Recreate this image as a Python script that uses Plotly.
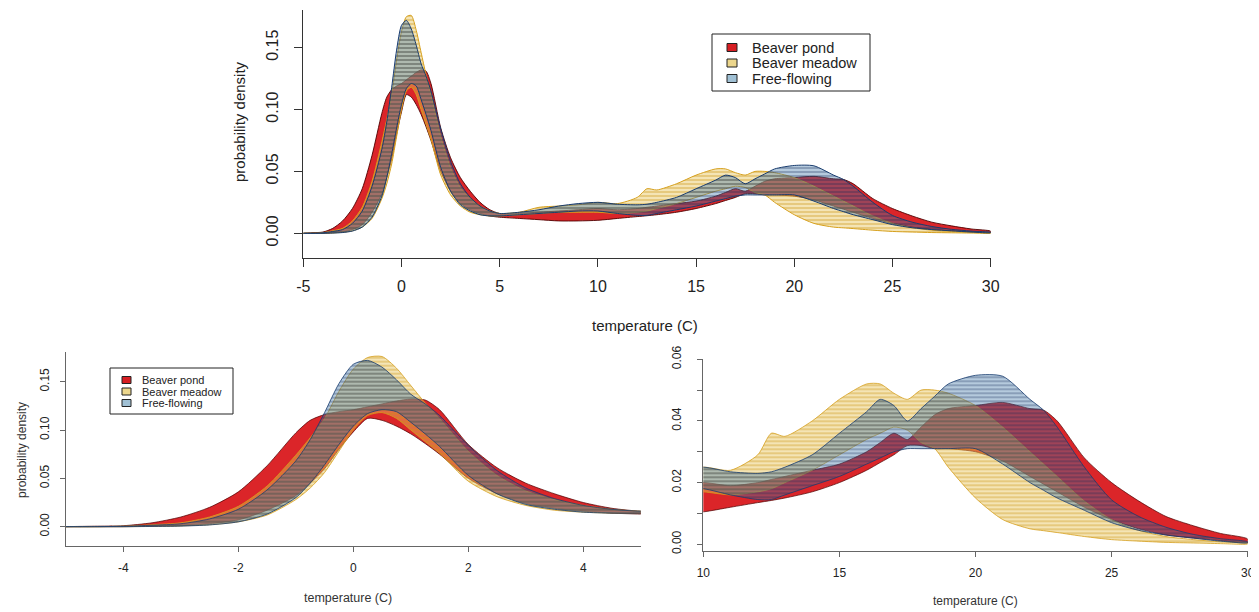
import plotly.graph_objects as go

# ---------------- data ----------------
temperature = [-5, -4.5, -4, -3.5, -3, -2.5, -2, -1.5, -1, -0.75, -0.5, -0.25, 0, 0.25, 0.5, 0.75,
               1, 1.25, 1.5, 2, 2.5, 3, 3.5, 4, 4.5, 5, 6, 7, 8, 9, 10, 11, 12, 12.5, 13, 14, 15,
               16, 16.5, 17, 17.5, 18, 18.5, 19, 20, 21, 22, 22.5, 23, 24, 25, 26, 27, 28, 29, 30]

pond_lo = [0, 0, 0, 0.0005, 0.001, 0.003, 0.007, 0.017, 0.032, 0.045, 0.060, 0.080, 0.098, 0.112,
           0.110, 0.104, 0.096, 0.086, 0.075, 0.050, 0.034, 0.024, 0.019, 0.016, 0.014, 0.013,
           0.012, 0.011, 0.010, 0.010, 0.0105, 0.012, 0.0135, 0.0142, 0.015, 0.017, 0.020, 0.024,
           0.0265, 0.029, 0.032, 0.032, 0.031, 0.031, 0.030, 0.027, 0.022, 0.0195, 0.017, 0.012,
           0.008, 0.005, 0.003, 0.002, 0.0012, 0.0005]
pond_hi = [0, 0.0005, 0.001, 0.004, 0.010, 0.020, 0.036, 0.063, 0.097, 0.110, 0.116, 0.119, 0.121,
           0.124, 0.127, 0.130, 0.132, 0.131, 0.121, 0.085, 0.061, 0.045, 0.034, 0.025, 0.019,
           0.016, 0.016, 0.017, 0.018, 0.019, 0.020, 0.019, 0.020, 0.021, 0.022, 0.024, 0.026,
           0.030, 0.033, 0.036, 0.034, 0.038, 0.042, 0.044, 0.045, 0.046, 0.044, 0.0435, 0.040,
           0.028, 0.020, 0.014, 0.009, 0.006, 0.0035, 0.0017]

meadow_lo = [0, 0, 0, 0.0003, 0.0008, 0.002, 0.005, 0.012, 0.028, 0.040, 0.056, 0.078, 0.100,
             0.115, 0.118, 0.112, 0.100, 0.088, 0.076, 0.047, 0.031, 0.022, 0.017, 0.015, 0.014,
             0.014, 0.015, 0.016, 0.017, 0.017, 0.017, 0.016, 0.017, 0.018, 0.020, 0.024, 0.029,
             0.034, 0.036, 0.038, 0.037, 0.033, 0.031, 0.025, 0.015, 0.008, 0.005, 0.0044, 0.0038,
             0.0025, 0.0015, 0.001, 0.0006, 0.0004, 0.0002, 0.0001]
meadow_hi = [0, 0, 0.0005, 0.002, 0.004, 0.010, 0.021, 0.042, 0.074, 0.092, 0.112, 0.140, 0.163,
             0.175, 0.176, 0.164, 0.146, 0.128, 0.112, 0.078, 0.053, 0.037, 0.028, 0.022, 0.018,
             0.016, 0.017, 0.021, 0.022, 0.023, 0.025, 0.024, 0.029, 0.036, 0.035, 0.040, 0.047,
             0.052, 0.052, 0.049, 0.047, 0.050, 0.050, 0.049, 0.045, 0.038, 0.030, 0.026, 0.022,
             0.014, 0.008, 0.0045, 0.0025, 0.0015, 0.0008, 0.0004]

free_lo = [0, 0, 0, 0.0002, 0.0006, 0.0018, 0.005, 0.013, 0.030, 0.045, 0.064, 0.085, 0.104,
           0.117, 0.121, 0.119, 0.108, 0.096, 0.083, 0.053, 0.034, 0.023, 0.018, 0.015, 0.014,
           0.014, 0.015, 0.016, 0.017, 0.018, 0.018, 0.016, 0.0145, 0.0145, 0.016, 0.019, 0.022,
           0.026, 0.028, 0.030, 0.031, 0.031, 0.031, 0.031, 0.031, 0.026, 0.020, 0.0175, 0.015,
           0.011, 0.007, 0.0045, 0.003, 0.002, 0.001, 0.0005]
free_hi = [0, 0, 0.0004, 0.0015, 0.003, 0.008, 0.018, 0.038, 0.068, 0.090, 0.118, 0.148, 0.168,
           0.172, 0.165, 0.152, 0.137, 0.127, 0.115, 0.084, 0.058, 0.040, 0.029, 0.022, 0.018,
           0.016, 0.017, 0.019, 0.022, 0.024, 0.025, 0.0235, 0.023, 0.0235, 0.025, 0.029, 0.036,
           0.043, 0.047, 0.045, 0.040, 0.044, 0.048, 0.052, 0.0548, 0.0545, 0.047, 0.0435, 0.038,
           0.025, 0.0144, 0.009, 0.0055, 0.0032, 0.0018, 0.0008]

series_names = ["Beaver pond", "Beaver meadow", "Free-flowing"]

top_xticks = [-5, 0, 5, 10, 15, 20, 25, 30]
left_xticks = [-4, -2, 0, 2, 4]
right_xticks = [10, 15, 20, 25, 30]
density_ticks = [0, 0.05, 0.10, 0.15]
zoom_density_ticks = [0, 0.01, 0.02, 0.03, 0.04, 0.05, 0.06]

# ---------------- styling ----------------
# page has an 8px body margin, so the figure is 8px smaller than the window
OFF = 8
W, H = 1259 - OFF, 612 - OFF
FONT = "Liberation Sans, Arial, sans-serif"


def fx(p):
    return (p - OFF) / W


def fy(p):
    return 1 - (p - OFF) / H


styles = [
    dict(lo=pond_lo, hi=pond_hi, fill="rgba(218,28,32,0.96)", line="rgba(80,0,0,0.9)", pattern=None,
         icon="rgb(215,30,35)"),
    dict(lo=meadow_lo, hi=meadow_hi, fill="rgba(230,192,80,0.5)", line="rgb(214,160,30)",
         pattern=dict(shape="-", fillmode="replace", bgcolor="rgba(232,196,90,0.45)",
                      fgcolor="rgb(200,145,15)", fgopacity=0.55, size=4, solidity=0.3),
         icon="rgb(236,214,140)"),
    dict(lo=free_lo, hi=free_hi, fill="rgba(50,100,150,0.4)", line="rgb(25,60,110)",
         pattern=dict(shape="-", fillmode="replace", bgcolor="rgba(60,115,165,0.38)",
                      fgcolor="rgb(15,40,85)", fgopacity=0.45, size=4, solidity=0.3),
         icon="rgb(160,192,212)"),
]

fig = go.Figure()
panels = [("x", "y", 1.0), ("x2", "y2", 0.8), ("x3", "y3", 0.8)]
for xa, ya, lw in panels:
    for name, st in zip(series_names, styles):
        xs = list(temperature) + list(temperature)[::-1]
        ys = list(st["lo"]) + list(st["hi"])[::-1]
        kw = dict(fillcolor=st["fill"])
        if st["pattern"] is not None:
            kw["fillpattern"] = st["pattern"]
        fig.add_trace(go.Scatter(
            x=xs, y=ys, mode="lines", fill="toself", name=name,
            line=dict(color=st["line"], width=lw, shape="spline", smoothing=0.7),
            xaxis=xa, yaxis=ya, showlegend=False, hoverinfo="skip", **kw))


def axis_common(color, tsize, ticklen, standoff):
    return dict(showline=True, linecolor=color, linewidth=1, ticks="outside", ticklen=ticklen,
                tickcolor=color, tickwidth=1, showgrid=False, zeroline=False, automargin=False,
                tickfont=dict(family=FONT, size=tsize, color="#222"),
                ticklabelstandoff=standoff)


def labels(vals, fmt="{:g}"):
    return [fmt.format(v) for v in vals]


fig.update_layout(
    template="none",
    width=W, height=H, margin=dict(l=0, r=0, t=0, b=0, pad=0), autosize=False,
    paper_bgcolor="white", plot_bgcolor="white", showlegend=False,
    xaxis=dict(domain=[fx(303.3), fx(990.7)], range=[-5, 30], anchor="y",
               tickvals=top_xticks, ticktext=labels(top_xticks),
               **axis_common("#333", 16, 8, 5)),
    yaxis=dict(domain=[fy(258.3), fy(10)], range=[-0.0202, 0.1804], anchor="x",
               tickvals=density_ticks, ticktext=labels(density_ticks, "{:.2f}"),
               tickangle=-90, **axis_common("#333", 16, 8, 10)),
    xaxis2=dict(domain=[fx(65.8), fx(640.8)], range=[-5, 5], anchor="y2",
                tickvals=left_xticks, ticktext=labels(left_xticks),
                **axis_common("#666", 12, 5, 6)),
    yaxis2=dict(domain=[fy(546), fy(351.7)], range=[-0.020, 0.181], anchor="x2",
                tickvals=density_ticks, ticktext=labels(density_ticks, "{:.2f}"),
                tickangle=-90, **axis_common("#666", 12, 5, 6)),
    xaxis3=dict(domain=[fx(703.3), fx(1247.7)], range=[10, 30], anchor="y3",
                tickvals=right_xticks, ticktext=labels(right_xticks),
                **axis_common("#666", 12, 5, 6)),
    yaxis3=dict(domain=[fy(550.7), fy(359.3)], range=[-0.0021, 0.06], anchor="x3",
                tickvals=zoom_density_ticks,
                ticktext=["{:.2f}".format(v) if i % 2 == 0 else "" for i, v in enumerate(zoom_density_ticks)],
                tickangle=-90, **axis_common("#666", 12, 5, 12)),
)

annotations = []
shapes = []


def text(x, y, s, size, angle=0, anchor="center", color="#222"):
    annotations.append(dict(x=fx(x), y=fy(y), xref="paper", yref="paper", text=s, showarrow=False,
                            textangle=angle, xanchor=anchor, yanchor="middle",
                            font=dict(family=FONT, size=size, color=color)))


# axis titles
text(240, 122, "probability density", 15, -90)
text(645, 325, "temperature (C)", 15)
text(22, 450, "probability density", 12, -90, color="#333")
text(348, 598, "temperature (C)", 12.5, color="#333")
text(975, 601, "temperature (C)", 12, color="#333")


def legend(x0, y0, x1, y1, icon_x, icon_w, icon_h, rows, text_x, size):
    shapes.append(dict(type="rect", xref="paper", yref="paper", x0=fx(x0), x1=fx(x1), y0=fy(y1),
                       y1=fy(y0), line=dict(color="#222", width=1), fillcolor="white", layer="above"))
    for name, st, ry in zip(series_names, styles, rows):
        shapes.append(dict(type="rect", xref="paper", yref="paper", x0=fx(icon_x),
                           x1=fx(icon_x + icon_w), y0=fy(ry + icon_h / 2), y1=fy(ry - icon_h / 2),
                           line=dict(color="#222", width=1), fillcolor=st["icon"], layer="above"))
        text(text_x, ry, name, size, anchor="left")


legend(712, 34, 870, 91, 727, 10, 8, [47.5, 63, 78.5], 750, 14.5)
legend(110, 368, 233, 414, 122, 9, 7, [380, 391.5, 403], 140, 11)

fig.update_layout(annotations=annotations, shapes=shapes)
fig.write_html("out.html")
